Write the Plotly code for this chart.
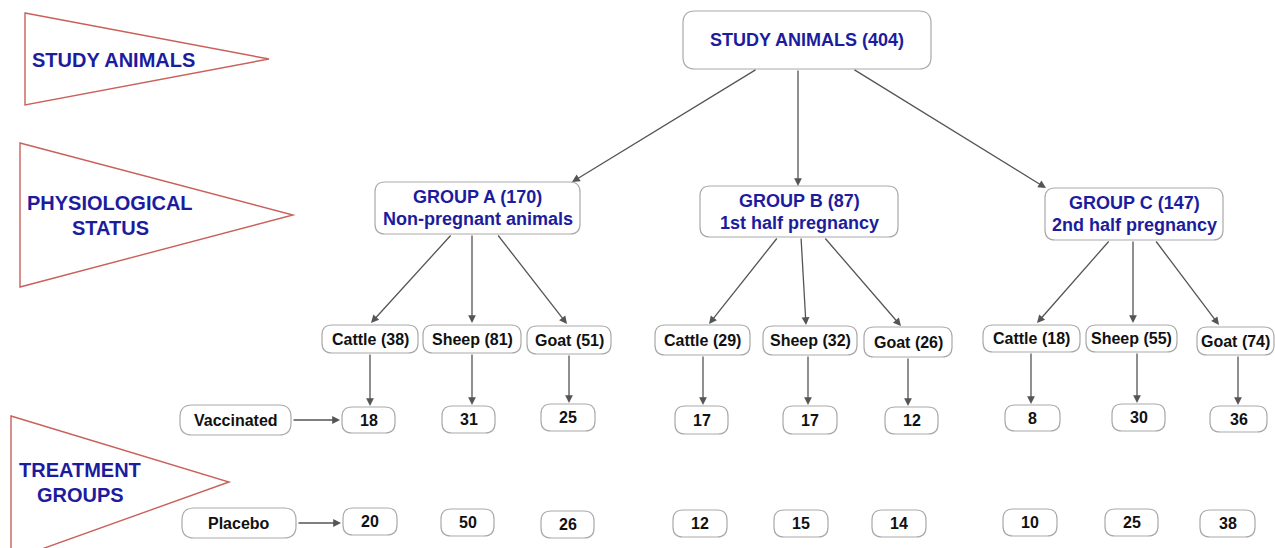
import plotly.graph_objects as go

# ---------------- data ----------------
total_label = "STUDY ANIMALS"
total_count = 404
groups = ["GROUP A", "GROUP B", "GROUP C"]
group_totals = [170, 87, 147]
group_desc = ["Non-pregnant animals", "1st half pregnancy", "2nd half pregnancy"]
species = ["Cattle", "Sheep", "Goat"]
species_counts = [[38, 81, 51], [29, 32, 26], [18, 55, 74]]
vaccinated = [[18, 31, 25], [17, 17, 12], [8, 30, 36]]
placebo = [[20, 50, 26], [12, 15, 14], [10, 25, 38]]
treatments = ["Vaccinated", "Placebo"]
stage_labels = [["STUDY ANIMALS"], ["PHYSIOLOGICAL", "STATUS"], ["TREATMENT", "GROUPS"]]

# ---------------- layout geometry ----------------
W, H = 1275, 548
BLUE = "#1c1c9e"
RED = "#c9605a"
BORDER = "#a9a9a9"
ARROW = "#555555"
FONT = "Liberation Sans, Arial, sans-serif"

top_box = (683, 11, 931, 69)
group_boxes = [(375, 182, 580, 234), (700, 186, 898, 237), (1045, 188, 1223, 240)]
species_boxes = [
    [(322, 325, 418, 353), (423, 325, 521, 353), (527, 326, 611, 354)],
    [(655, 325, 750, 355), (763, 326, 857, 355), (864, 327, 952, 357)],
    [(983, 325, 1080, 352), (1086, 325, 1177, 352), (1197, 327, 1274, 355)],
]
vacc_boxes = [
    [(342, 407, 395, 433), (442, 406, 495, 433), (541, 404, 595, 431)],
    [(675, 406, 728, 434), (783, 406, 837, 434), (885, 407, 938, 434)],
    [(1005, 405, 1060, 431), (1112, 404, 1165, 431), (1210, 406, 1267, 432)],
]
plac_boxes = [
    [(343, 508, 397, 535), (441, 509, 494, 536), (541, 511, 594, 538)],
    [(673, 510, 727, 537), (774, 510, 828, 537), (872, 510, 926, 537)],
    [(1003, 509, 1057, 536), (1105, 509, 1158, 536), (1200, 510, 1255, 537)],
]
treat_boxes = [(180, 405, 291, 435), (182, 508, 296, 538)]
pennants = [
    (25, 13, 105, 269, 59, 113, [60]),
    (20, 143, 287, 293, 215, 110, [203, 228]),
    (11, 416, 560, 229, 482, 80, [470, 495]),
]
top_tails = [(757, 69), (798, 69), (853, 69)]
top_heads = [(572, 182), (798, 186), (1046, 188)]
grp_tails = [[(452, 234), (472, 234), (497, 234)],
             [(778, 237), (801, 237), (824, 237)],
             [(1110, 240), (1133, 240), (1155, 240)]]
grp_heads = [[(371, 323), (472, 323), (567, 324)],
             [(709, 324), (806, 325), (901, 326)],
             [(1037, 323), (1133, 323), (1219, 325)]]
vert_x = [[370, 472, 569], [703, 808, 908], [1031, 1137, 1238]]


def rrect(b, r=10):
    x0, y0, x1, y1 = b
    r = min(r, (y1 - y0) / 2, (x1 - x0) / 2)
    return (f"M {x0+r},{y0} L {x1-r},{y0} Q {x1},{y0} {x1},{y0+r} "
            f"L {x1},{y1-r} Q {x1},{y1} {x1-r},{y1} L {x0+r},{y1} "
            f"Q {x0},{y1} {x0},{y1-r} L {x0},{y0+r} Q {x0},{y0} {x0+r},{y0} Z")


shapes = []
annotations = []


def box(b, r=10):
    shapes.append(dict(type="path", path=rrect(b, r), xref="x", yref="y",
                       line=dict(color=BORDER, width=1.2), fillcolor="white", layer="above"))


def text(x, y, s, size, color, weight="bold"):
    annotations.append(dict(x=x, y=y, xref="x", yref="y", text=s, showarrow=False,
                            font=dict(family=FONT, size=size, color=color, weight=weight),
                            xanchor="center", yanchor="middle"))


def arrow(tail, head):
    annotations.append(dict(x=head[0], y=head[1], ax=tail[0], ay=tail[1], xref="x", yref="y",
                            axref="x", ayref="y", text="", showarrow=True, arrowhead=2,
                            arrowsize=1.2, arrowwidth=1.3, arrowcolor=ARROW, standoff=0))


def ctr(b):
    return ((b[0] + b[2]) / 2, (b[1] + b[3]) / 2)


# pennants
for (lx, ty, by, tx, tyy, cx, lys), lines in zip(pennants, stage_labels):
    shapes.append(dict(type="path", path=f"M {lx},{ty} L {tx},{tyy} L {lx},{by} Z",
                       xref="x", yref="y", line=dict(color=RED, width=1.4), fillcolor="white"))
    for ly, s in zip(lys, lines):
        text(cx, ly, s, 20, BLUE)

# top box
box(top_box, 12)
cx, cy = ctr(top_box)
text(cx, cy, f"{total_label} ({total_count})", 18, BLUE)

for g in range(3):
    arrow(top_tails[g], top_heads[g])
    gb = group_boxes[g]
    box(gb, 10)
    gx = (gb[0] + gb[2]) / 2
    text(gx, gb[1] + 15, f"{groups[g]} ({group_totals[g]})", 18, BLUE)
    text(gx, gb[1] + 37, group_desc[g], 18, BLUE)
    for s in range(3):
        arrow(grp_tails[g][s], grp_heads[g][s])
        sb = species_boxes[g][s]
        box(sb, 10)
        sx, sy = ctr(sb)
        text(sx, sy, f"{species[s]} ({species_counts[g][s]})", 16, "#111111")
        vb = vacc_boxes[g][s]
        arrow((vert_x[g][s], sb[3]), (vert_x[g][s], vb[1] - 1))
        box(vb, 10)
        vx, vy = ctr(vb)
        text(vx, vy, str(vaccinated[g][s]), 16, "#111111")
        pb = plac_boxes[g][s]
        box(pb, 10)
        px, py = ctr(pb)
        text(px, py, str(placebo[g][s]), 16, "#111111")

for i, tb in enumerate(treat_boxes):
    box(tb, 12)
    tx, ty = ctr(tb)
    text(tx, ty, treatments[i], 16, "#111111")
    target = vacc_boxes[0][0] if i == 0 else plac_boxes[0][0]
    arrow((tb[2] + 1, ty), (target[0] - 2, ty))

fig = go.Figure()
fig.add_trace(go.Scatter(x=[0, W], y=[0, H], mode="markers", marker=dict(opacity=0),
                         hoverinfo="skip", showlegend=False))
fig.update_layout(
    width=W, height=H, margin=dict(l=0, r=0, t=0, b=0),
    paper_bgcolor="white", plot_bgcolor="white",
    xaxis=dict(range=[0, W], visible=False, fixedrange=True),
    yaxis=dict(range=[H, 0], visible=False, fixedrange=True),
    shapes=shapes, annotations=annotations, showlegend=False,
)
fig.write_html("out.html", config={"displayModeBar": False},
               post_script="document.body.style.margin='0';document.body.style.overflow='hidden';")
